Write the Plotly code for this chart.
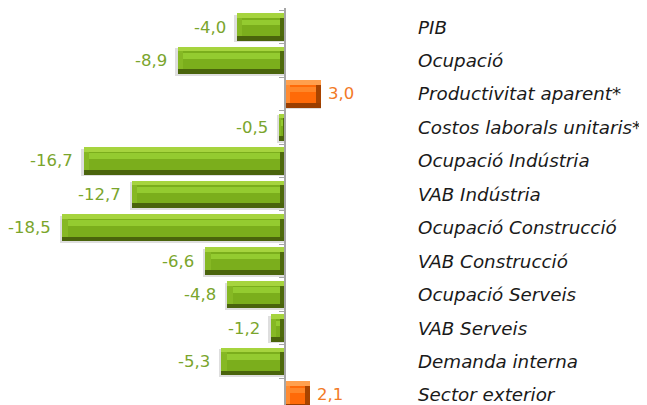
import plotly.graph_objects as go

categories = ["PIB", "Ocupació", "Productivitat aparent*", "Costos laborals unitaris*",
              "Ocupació Indústria", "VAB Indústria", "Ocupació Construcció", "VAB Construcció",
              "Ocupació Serveis", "VAB Serveis", "Demanda interna", "Sector exterior"]
values = [-4.0, -8.9, 3.0, -0.5, -16.7, -12.7, -18.5, -6.6, -4.8, -1.2, -5.3, 2.1]

pos = list(range(len(categories)))
GREEN = dict(body="#86b824", dark="#4e6a0c", top="#a6d43e", bot="#4a640c", face="#7bae1c", hi="#94cb30", text="#7aa52c")
ORANGE = dict(body="#ff8a30", dark="#a84400", top="#ffa04e", bot="#9a3e00", face="#ff6a08", hi="#ff8628", text="#f27a26")
pal = [ORANGE if v > 0 else GREEN for v in values]

W = 0.82
BV = 0.14   # vertical bevel (category units)
BH = 0.45   # horizontal bevel (value units)

fig = go.Figure()

def sgn(v):
    return 1 if v > 0 else -1

# soft shadow
fig.add_trace(go.Bar(y=pos, x=[v - 0.2 if v < 0 else v for v in values],
                     orientation="h", width=W, offset=-W / 2 + 0.05,
                     marker=dict(color="#dedede", line_width=0), hoverinfo="skip"))
# outer body (left bevel colour)
fig.add_trace(go.Bar(y=pos, x=values, orientation="h", width=W, offset=-W / 2,
                     marker=dict(color=[p["body"] for p in pal], line_width=0), hoverinfo="skip"))
# right-end dark bevel
end_len = [min(BH, abs(v) / 2) for v in values]
end_base = [-e if v < 0 else v - e for v, e in zip(values, end_len)]
fig.add_trace(go.Bar(y=pos, x=end_len, base=end_base, orientation="h", width=W, offset=-W / 2,
                     marker=dict(color=[p["dark"] for p in pal], line_width=0), hoverinfo="skip"))
# top bevel
fig.add_trace(go.Bar(y=pos, x=values, orientation="h", width=BV, offset=-W / 2,
                     marker=dict(color=[p["top"] for p in pal], line_width=0), hoverinfo="skip"))
# bottom bevel
fig.add_trace(go.Bar(y=pos, x=values, orientation="h", width=BV, offset=W / 2 - BV,
                     marker=dict(color=[p["bot"] for p in pal], line_width=0), hoverinfo="skip"))
# face
face_x = []
face_base = []
for v in values:
    s = sgn(v)
    length = max(abs(v) - 2 * BH, 0.15)
    face_base.append(s * BH if abs(v) > 2 * BH else v / 2 - s * 0.075)
    face_x.append(s * length)
fig.add_trace(go.Bar(y=pos, x=face_x, base=face_base, orientation="h",
                     width=W - 2 * BV, offset=-W / 2 + BV,
                     marker=dict(color=[p["face"] for p in pal], line_width=0), hoverinfo="skip"))
# face highlight
fig.add_trace(go.Bar(y=pos, x=face_x, base=face_base, orientation="h",
                     width=0.17, offset=-W / 2 + BV + 0.05,
                     marker=dict(color=[p["hi"] for p in pal], line_width=0), hoverinfo="skip"))

scale = 12.05      # px per unit
zero_px = 277      # zero position inside the figure
row0_px = 19
row_px = 33.45

annotations = []
for i, (c, v) in enumerate(zip(categories, values)):
    txt = f"{v:.1f}".replace(".", ",")
    annotations.append(dict(x=v, y=i, xref="x", yref="y", text=txt, showarrow=False,
                            xanchor="right" if v < 0 else "left",
                            xshift=-9 if v < 0 else 5,
                            font=dict(family="DejaVu Sans", size=16.5, color=pal[i]["text"])))
    annotations.append(dict(x=131 / scale, y=i, xref="x", yref="y", text=f"<i>{c}</i>", showarrow=False,
                            xanchor="left",
                            font=dict(family="DejaVu Sans", size=18.3, color="#1a1a1a")))

fig.update_layout(
    width=647, height=405,
    margin=dict(l=0, r=0, t=0, b=0),
    paper_bgcolor="white", plot_bgcolor="white",
    barmode="overlay", bargap=0, showlegend=False,
    annotations=annotations,
    xaxis=dict(range=[-zero_px / scale, (647 - zero_px) / scale], visible=False, fixedrange=True),
    yaxis=dict(range=[(405 - row0_px) / row_px, -row0_px / row_px], anchor="free", position=zero_px / 647,
               showline=True, linecolor="#a6a6a6", linewidth=2, ticks="outside",
               tickvals=[i - 0.5 for i in range(len(categories) + 1)], ticklen=5,
               tickcolor="#a6a6a6", tickwidth=1, showticklabels=False, showgrid=False,
               zeroline=False, fixedrange=True),
)

fig.write_html("out.html")
